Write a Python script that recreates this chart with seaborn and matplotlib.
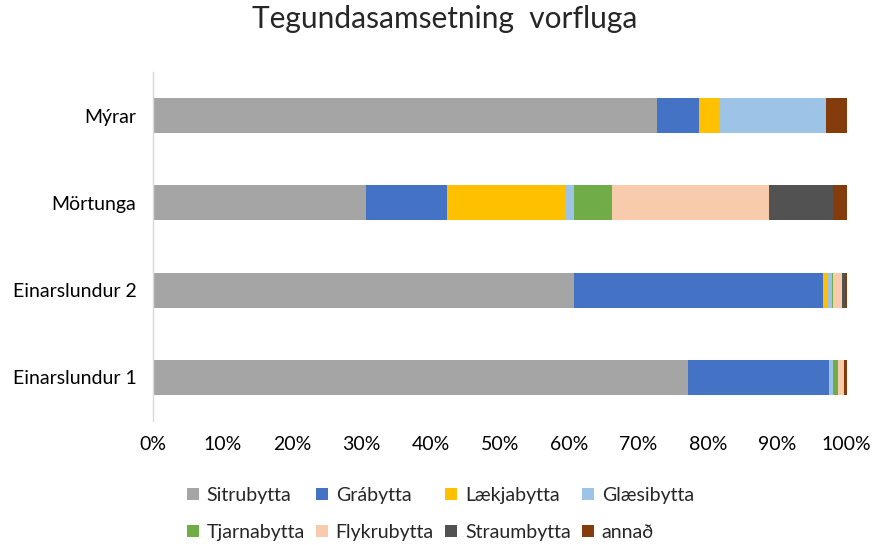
import numpy as np
import pandas as pd
import matplotlib
matplotlib.use("Agg")
import matplotlib.pyplot as plt
from matplotlib.patches import Patch
from matplotlib.ticker import PercentFormatter
import seaborn as sns

# data (percent of each site)
sites = ["Mýrar", "Mörtunga", "Einarslundur 2", "Einarslundur 1"]
species = ["Sitrubytta", "Grábytta", "Lækjabytta", "Glæsibytta",
           "Tjarnabytta", "Flykrubytta", "Straumbytta", "annað"]
sitrubytta = [72.6, 30.7, 60.7, 77.1]
grabytta = [6.1, 11.7, 35.9, 20.3]
laekjabytta = [3.1, 17.1, 0.5, 0.0]
glaesibytta = [15.2, 1.2, 0.8, 0.6]
tjarnabytta = [0.0, 5.4, 0.1, 0.7]
flykrubytta = [0.0, 22.7, 1.3, 0.9]
straumbytta = [0.0, 9.2, 0.4, 0.0]
annad = [3.0, 2.0, 0.3, 0.4]

colors = ["#A5A5A5", "#4472C4", "#FFC000", "#9DC3E6",
          "#70AD47", "#F8CBAD", "#525252", "#843C0C"]

df = pd.DataFrame({"site": sites})
vals = [sitrubytta, grabytta, laekjabytta, glaesibytta,
        tjarnabytta, flykrubytta, straumbytta, annad]
for name, v in zip(species, vals):
    df[name] = v
# normalise to 100 %
tot = df[species].sum(axis=1)
df[species] = df[species].div(tot, axis=0) * 100
cum = df[species].cumsum(axis=1)

sns.set_style("white")
plt.rcParams["font.family"] = ["Lato", "DejaVu Sans"]

fig = plt.figure(figsize=(8.72, 5.45), dpi=100)
ax = fig.add_axes([0.1755, 0.2275, 0.7955, 0.6405])

# stacked bars: draw cumulative totals from last to first
for name, c in reversed(list(zip(species, colors))):
    sns.barplot(x=cum[name], y=df["site"], orient="h", color=c,
                width=0.4, saturation=1, linewidth=0, ax=ax)

ax.set_xlim(0, 100)
ax.set_xticks(np.arange(0, 101, 10))
ax.xaxis.set_major_formatter(PercentFormatter(decimals=0))
ax.set_xlabel("")
ax.set_ylabel("")
ax.tick_params(axis="both", length=0, labelsize=14, colors="#000000")
ax.tick_params(axis="x", pad=11)
ax.tick_params(axis="y", pad=12)
for s in ["top", "right", "bottom"]:
    ax.spines[s].set_visible(False)
ax.spines["left"].set_color("#D9D9D9")
ax.spines["left"].set_linewidth(1)

fig.suptitle("Tegundasamsetning  vorfluga", fontsize=21.5, x=0.51, y=0.99)

# legend filled row by row (matplotlib fills columns first)
order = [0, 4, 1, 5, 2, 6, 3, 7]
handles = [Patch(facecolor=colors[i], edgecolor="none") for i in order]
labels = [species[i] for i in order]
fig.legend(handles, labels, loc="lower center", ncol=4,
           bbox_to_anchor=(0.505, -0.025), frameon=False, fontsize=14,
           handlelength=0.6, handleheight=0.6, handletextpad=0.4,
           columnspacing=0.6, labelspacing=1.05)

fig.savefig("out.png", dpi=100)
